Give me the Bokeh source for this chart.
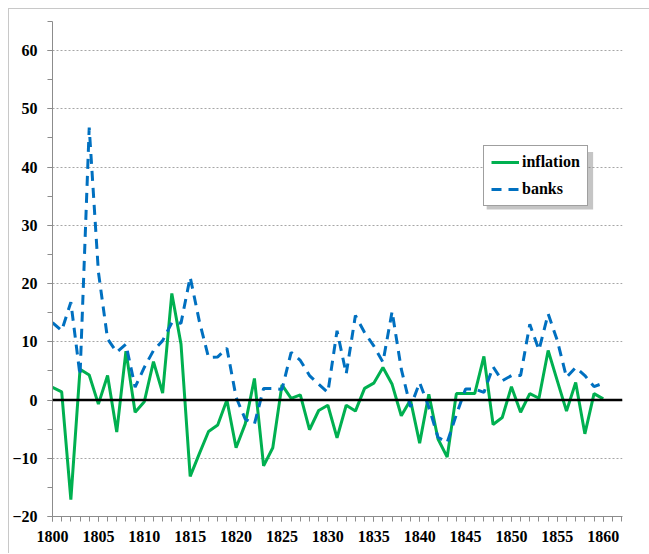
from bokeh.plotting import figure
from bokeh.layouts import column
from bokeh.models import Range1d, SingleIntervalTicker, Span, Legend, LegendItem, BoxAnnotation
from bokeh.embed import file_html
from bokeh.resources import INLINE

years = list(range(1800, 1861))
inflation = [2.2, 1.4, -17.1, 5.3, 4.3, -0.7, 4.2, -5.5, 8.4, -2.1,
             -0.3, 6.6, 1.2, 18.3, 9.6, -13.1, -9.2, -5.4, -4.3, 0.0,
             -8.2, -4.1, 3.7, -11.3, -8.2, 2.6, 0.3, 0.9, -5.1, -1.8,
             -0.9, -6.5, -0.9, -1.9, 2.0, 2.9, 5.6, 2.7, -2.7, 0.0,
             -7.4, 1.0, -6.7, -9.8, 1.1, 1.1, 1.1, 7.5, -4.2, -3.0,
             2.3, -2.1, 1.1, 0.3, 8.5, 3.3, -1.9, 3.0, -5.8, 1.1, 0.2]
banks = [13.3, 11.9, 16.8, 4.2, 46.8, 22.0, 10.5, 8.2, 9.6, 2.2,
         5.6, 8.5, 10.2, 13.3, 13.2, 21.1, 13.5, 7.3, 7.4, 8.9,
         0.5, -3.3, -4.1, 2.0, 2.0, 1.8, 8.2, 6.8, 4.2, 2.7,
         1.3, 11.9, 4.5, 14.5, 11.6, 9.3, 6.5, 15.2, 5.3, -1.2,
         3.0, -1.2, -6.4, -7.3, -2.5, 1.9, 1.9, 1.3, 5.7, 3.3,
         4.2, 4.2, 13.0, 8.6, 14.8, 10.2, 3.9, 5.6, 4.2, 2.3, 2.9]

FONT = "Liberation Sans Narrow"

p = figure(frame_width=570, frame_height=495,
           min_border_left=41, min_border_right=29, min_border_top=12, min_border_bottom=37,
           x_range=Range1d(1800, 1862.1), y_range=Range1d(-20, 65),
           output_backend="svg", toolbar_location=None)
p.outline_line_color = None
p.background_fill_color = "white"
p.border_fill_color = "white"

p.xaxis.ticker = SingleIntervalTicker(interval=5, num_minor_ticks=5)
p.yaxis.ticker = SingleIntervalTicker(interval=10, num_minor_ticks=2)
for ax in (p.xaxis[0], p.yaxis[0]):
    ax.axis_line_color = "#8c8c8c"
    ax.major_tick_line_color = "#8c8c8c"
    ax.minor_tick_line_color = "#8c8c8c"
    ax.major_tick_out = 5
    ax.major_tick_in = 0
    ax.minor_tick_out = 5
    ax.minor_tick_in = 0
    ax.major_label_text_font = FONT
    ax.major_label_text_font_style = "bold"
    ax.major_label_text_font_size = "16px"
    ax.major_label_text_color = "black"
p.yaxis.major_label_standoff = 10
p.xaxis.major_label_standoff = 9

p.xgrid.grid_line_color = None
p.ygrid.grid_line_color = "#a6a6a6"
p.ygrid.grid_line_dash = "2 2"
p.ygrid.grid_line_width = 1

zero = Span(location=0, dimension="width", line_color="black", line_width=2.5)
p.add_layout(zero)

r_inf = p.line(years, inflation, line_color="#00B050", line_width=3)
r_bank = p.line(years, banks, line_color="#0070C0", line_width=3, line_dash="10 7")

# soft shadow behind the legend box (offset down-right by ~3px)
shadow = BoxAnnotation(left=1847.3, right=1858.9, top=42.6, bottom=32.7,
                       fill_color="#7f7f7f", fill_alpha=0.45, line_color=None)
p.add_layout(shadow)

legend = Legend(items=[LegendItem(label="inflation", renderers=[r_inf]),
                       LegendItem(label="banks", renderers=[r_bank])],
                location=(431, 310))
legend.label_text_font = FONT
legend.label_text_font_style = "bold"
legend.label_text_font_size = "16px"
legend.label_text_color = "black"
legend.border_line_color = "#404040"
legend.border_line_width = 1
legend.padding = 7
legend.spacing = 9
legend.glyph_width = 28
legend.glyph_height = 18
legend.label_height = 18
legend.label_standoff = 3
legend.margin = 0
legend.background_fill_alpha = 1
p.add_layout(legend, "center")

root = column(p, styles={"margin-left": "8px", "margin-top": "8px",
                         "border-left": "1px solid #c8c8c8",
                         "border-top": "1px solid #c8c8c8"})

open("out.html", "w").write(file_html(root, INLINE))
